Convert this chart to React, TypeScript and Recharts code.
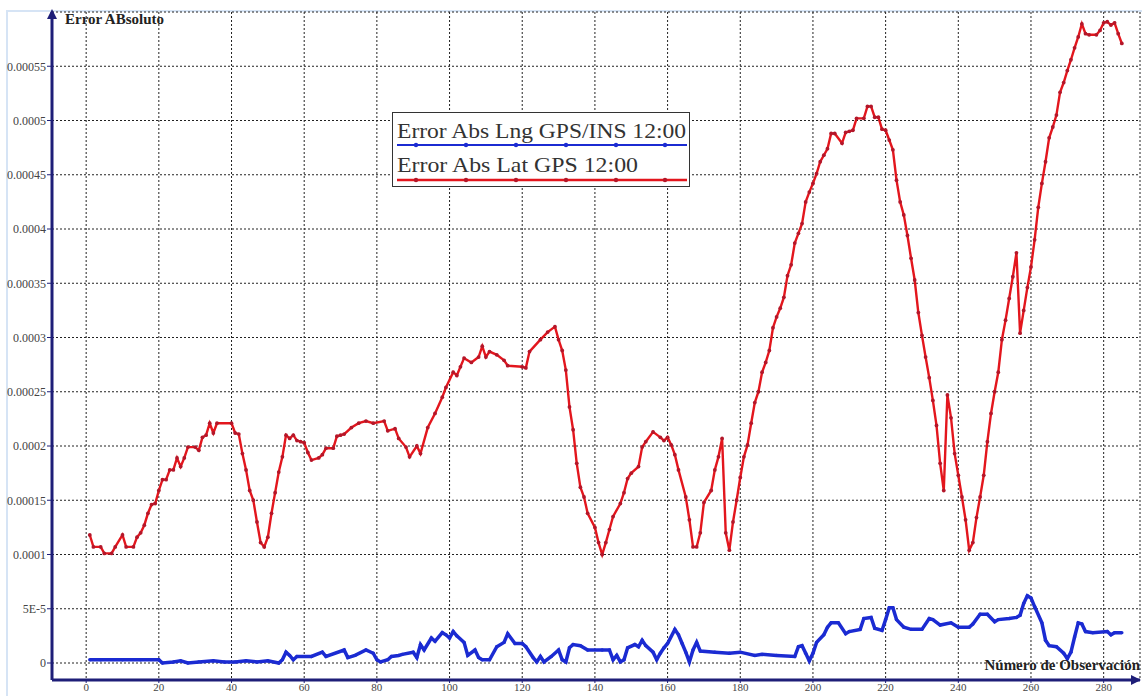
import React from 'react';
import { LineChart, Line, XAxis, YAxis, CartesianGrid, ReferenceDot, Legend } from 'recharts';

const X_TICKS = [0, 20, 40, 60, 80, 100, 120, 140, 160, 180, 200, 220, 240, 260, 280];
const Y_TICKS = [0, 5e-5, 10e-5, 15e-5, 20e-5, 25e-5, 30e-5, 35e-5, 40e-5, 45e-5, 50e-5, 55e-5];
const Y_TICK_LABELS = ['0', '5E-5', '0.0001', '0.00015', '0.0002', '0.00025', '0.0003', '0.00035', '0.0004', '0.00045', '0.0005', '0.00055'];
const X_DOMAIN: [number, number] = [-9.4, 290];
const Y_DOMAIN: [number, number] = [-1.566e-5, 60e-5];
const SERIES_NAMES = ['Error Abs Lng GPS/INS 12:00', 'Error Abs Lat GPS 12:00'];
const Y_TITLE = 'Error ABsoluto';
const X_TITLE = 'Número de Observación';

// [observation, absolute error]
const LNG_POINTS: [number, number][] = [
  [1, 0.3e-5], [4, 0.3e-5], [10, 0.3e-5], [15, 0.3e-5], [20, 0.3e-5], [21, 0.0], [24, 0.1e-5], [26, 0.2e-5],
  [28, 0.0], [31, 0.1e-5], [35, 0.2e-5], [38, 0.1e-5], [41, 0.1e-5], [44, 0.2e-5], [47, 0.1e-5], [50, 0.2e-5],
  [53, 0.0], [54, 0.3e-5], [55, 1.0e-5], [56, 0.7e-5], [57, 0.3e-5], [58, 0.6e-5], [62, 0.6e-5], [65, 1.0e-5],
  [66, 0.6e-5], [71, 1.2e-5], [72, 0.5e-5], [74, 0.7e-5], [77, 1.2e-5], [79, 0.9e-5], [80, 0.3e-5], [81, 0.1e-5],
  [83, 0.3e-5], [84, 0.6e-5], [86, 0.7e-5], [87, 0.8e-5], [90, 1.0e-5], [91, 0.5e-5], [92, 1.7e-5], [93, 1.2e-5],
  [95, 2.3e-5], [96, 2.0e-5], [98, 2.8e-5], [99, 2.6e-5], [100, 2.3e-5], [101, 2.9e-5], [102, 2.5e-5], [104, 1.9e-5],
  [105, 0.7e-5], [107, 1.2e-5], [108, 0.5e-5], [109, 0.3e-5], [111, 0.3e-5], [113, 1.5e-5], [115, 1.9e-5], [116, 2.7e-5],
  [118, 1.8e-5], [120, 1.8e-5], [121, 1.5e-5], [123, 0.5e-5], [124, 0.1e-5], [125, 0.6e-5], [126, 0.1e-5], [128, 0.6e-5],
  [130, 1.2e-5], [131, 0.3e-5], [132, 0.1e-5], [133, 1.4e-5], [134, 1.7e-5], [136, 1.6e-5], [138, 1.2e-5], [142, 1.2e-5],
  [144, 1.2e-5], [145, 0.3e-5], [146, 0.7e-5], [147, 0.1e-5], [148, 0.3e-5], [149, 1.4e-5], [151, 1.7e-5], [152, 1.5e-5],
  [153, 2.1e-5], [154, 1.6e-5], [156, 1.0e-5], [157, 0.3e-5], [158, 0.9e-5], [159, 1.4e-5], [160, 1.8e-5], [162, 3.1e-5],
  [163, 2.6e-5], [164, 1.8e-5], [165, 1.0e-5], [166, 0.1e-5], [167, 1.2e-5], [168, 1.9e-5], [169, 1.1e-5], [173, 1.0e-5],
  [177, 0.9e-5], [180, 1.0e-5], [184, 0.7e-5], [186, 0.8e-5], [190, 0.7e-5], [195, 0.6e-5], [196, 1.5e-5], [197, 1.6e-5],
  [198, 0.9e-5], [199, 0.2e-5], [200, 0.9e-5], [201, 1.9e-5], [203, 2.6e-5], [204, 3.3e-5], [205, 3.7e-5], [207, 3.7e-5],
  [209, 2.7e-5], [210, 2.9e-5], [213, 3.1e-5], [214, 4.1e-5], [216, 4.2e-5], [217, 3.2e-5], [219, 3.0e-5], [220, 4.0e-5],
  [221, 5.1e-5], [222, 5.1e-5], [223, 4.0e-5], [225, 3.3e-5], [227, 3.1e-5], [230, 3.1e-5], [232, 4.1e-5], [233, 4.0e-5],
  [235, 3.5e-5], [238, 3.7e-5], [240, 3.3e-5], [243, 3.3e-5], [244, 3.6e-5], [246, 4.5e-5], [248, 4.5e-5], [250, 3.8e-5],
  [251, 4.0e-5], [254, 4.1e-5], [256, 4.2e-5], [257, 4.4e-5], [258, 5.5e-5], [259, 6.2e-5], [260, 6.0e-5], [261, 5.2e-5],
  [263, 3.7e-5], [264, 2.1e-5], [265, 1.6e-5], [267, 1.5e-5], [269, 0.9e-5], [270, 0.4e-5], [271, 1.0e-5], [272, 2.4e-5],
  [273, 3.7e-5], [274, 3.6e-5], [275, 2.9e-5], [277, 2.8e-5], [281, 2.9e-5], [282, 2.6e-5], [283, 2.8e-5], [285, 2.8e-5],
];

const LAT_POINTS: [number, number][] = [
  [1, 11.8e-5], [2, 10.7e-5], [4, 10.7e-5], [5, 10.1e-5], [7, 10.1e-5], [8, 10.7e-5], [10, 11.8e-5], [11, 10.7e-5],
  [13, 10.7e-5], [14, 11.6e-5], [15, 12.0e-5], [16, 12.7e-5], [17, 13.8e-5], [18, 14.6e-5], [19, 14.7e-5], [20, 15.9e-5],
  [21, 16.9e-5], [22, 16.9e-5], [23, 17.8e-5], [24, 17.8e-5], [25, 18.9e-5], [26, 18.1e-5], [27, 18.9e-5], [28, 19.9e-5],
  [30, 19.9e-5], [31, 19.6e-5], [32, 20.8e-5], [33, 21.0e-5], [34, 22.1e-5], [35, 21.2e-5], [36, 22.1e-5], [40, 22.1e-5],
  [41, 21.2e-5], [42, 21.1e-5], [43, 19.3e-5], [44, 17.8e-5], [45, 15.9e-5], [46, 15.0e-5], [47, 13.0e-5], [48, 11.1e-5],
  [49, 10.7e-5], [50, 11.6e-5], [51, 13.8e-5], [52, 15.7e-5], [53, 17.6e-5], [54, 19.0e-5], [55, 21.0e-5], [56, 20.7e-5],
  [57, 21.0e-5], [58, 20.5e-5], [59, 20.4e-5], [60, 20.3e-5], [61, 19.4e-5], [62, 18.7e-5], [64, 18.9e-5], [65, 19.2e-5],
  [66, 19.8e-5], [68, 19.8e-5], [69, 20.9e-5], [70, 21.0e-5], [71, 21.1e-5], [73, 21.7e-5], [75, 22.1e-5], [77, 22.3e-5],
  [79, 22.1e-5], [82, 22.3e-5], [83, 21.4e-5], [85, 21.6e-5], [86, 20.7e-5], [88, 19.9e-5], [89, 19.0e-5], [91, 20.0e-5],
  [92, 19.3e-5], [94, 21.7e-5], [96, 23.0e-5], [98, 24.5e-5], [99, 25.4e-5], [101, 26.8e-5], [102, 26.5e-5], [103, 27.3e-5],
  [104, 28.1e-5], [106, 27.7e-5], [108, 28.2e-5], [109, 29.2e-5], [110, 28.2e-5], [111, 28.7e-5], [113, 28.4e-5], [115, 27.9e-5],
  [116, 27.4e-5], [120, 27.3e-5], [121, 27.2e-5], [122, 28.7e-5], [125, 29.8e-5], [127, 30.5e-5], [129, 31.0e-5], [130, 29.8e-5],
  [131, 28.8e-5], [132, 27.0e-5], [133, 23.6e-5], [134, 21.5e-5], [135, 18.4e-5], [136, 16.2e-5], [137, 15.3e-5], [138, 13.8e-5],
  [140, 12.5e-5], [141, 11.1e-5], [142, 10.0e-5], [143, 11.1e-5], [144, 12.3e-5], [145, 13.5e-5], [147, 14.7e-5], [148, 15.7e-5],
  [149, 17.0e-5], [150, 17.5e-5], [152, 18.1e-5], [153, 19.9e-5], [154, 20.4e-5], [156, 21.3e-5], [158, 20.8e-5], [159, 20.5e-5],
  [160, 20.8e-5], [161, 20.1e-5], [162, 19.2e-5], [163, 17.8e-5], [165, 15.3e-5], [166, 13.2e-5], [167, 10.7e-5], [168, 10.7e-5],
  [169, 12.0e-5], [170, 14.8e-5], [172, 15.9e-5], [173, 17.8e-5], [174, 19.0e-5], [175, 20.7e-5], [176, 12.0e-5], [177, 10.4e-5],
  [178, 13.0e-5], [179, 15.0e-5], [180, 17.1e-5], [181, 19.0e-5], [182, 20.1e-5], [183, 22.1e-5], [184, 24.0e-5], [185, 25.0e-5],
  [186, 26.8e-5], [187, 27.7e-5], [188, 28.8e-5], [189, 30.9e-5], [190, 31.9e-5], [191, 32.7e-5], [192, 33.7e-5], [193, 35.7e-5],
  [194, 36.7e-5], [195, 38.7e-5], [196, 39.6e-5], [197, 40.5e-5], [198, 42.5e-5], [199, 43.4e-5], [200, 44.2e-5], [201, 45.1e-5],
  [202, 46.2e-5], [203, 46.8e-5], [204, 47.4e-5], [205, 48.8e-5], [206, 48.8e-5], [208, 47.9e-5], [209, 48.9e-5], [210, 49.0e-5],
  [211, 49.1e-5], [212, 50.2e-5], [214, 50.2e-5], [215, 51.3e-5], [216, 51.3e-5], [217, 50.3e-5], [218, 50.3e-5], [219, 49.2e-5],
  [220, 49.1e-5], [221, 48.2e-5], [222, 47.3e-5], [223, 44.5e-5], [224, 42.5e-5], [225, 41.3e-5], [226, 39.4e-5], [227, 37.3e-5],
  [228, 35.3e-5], [229, 32.3e-5], [230, 30.2e-5], [231, 28.2e-5], [232, 26.3e-5], [233, 24.2e-5], [234, 21.9e-5], [235, 18.4e-5],
  [236, 15.9e-5], [237, 24.7e-5], [238, 22.6e-5], [239, 19.3e-5], [240, 17.3e-5], [241, 15.3e-5], [242, 13.2e-5], [243, 10.4e-5],
  [244, 11.1e-5], [245, 13.4e-5], [246, 15.3e-5], [247, 17.3e-5], [248, 20.4e-5], [249, 23.0e-5], [250, 25.0e-5], [251, 26.8e-5],
  [252, 29.8e-5], [253, 31.6e-5], [254, 33.6e-5], [255, 35.6e-5], [256, 37.8e-5], [257, 30.4e-5], [258, 32.5e-5], [259, 34.6e-5],
  [260, 36.5e-5], [261, 39.0e-5], [262, 42.0e-5], [263, 44.2e-5], [264, 46.2e-5], [265, 48.4e-5], [266, 49.4e-5], [267, 50.5e-5],
  [268, 52.6e-5], [269, 53.5e-5], [270, 54.6e-5], [271, 55.6e-5], [272, 56.7e-5], [273, 57.7e-5], [274, 58.9e-5], [275, 58.0e-5],
  [276, 57.9e-5], [278, 57.9e-5], [279, 58.3e-5], [280, 59.0e-5], [281, 59.1e-5], [282, 58.8e-5], [283, 59.0e-5], [284, 58.0e-5],
  [285, 57.1e-5],
];

const lngData = LNG_POINTS.map(([x, y]) => ({ x, y }));
const latData = LAT_POINTS.map(([x, y]) => ({ x, y }));

const NAVY = '#1e1e78';
const BLUE = '#1b2bd2';
const RED = '#e3161d';
const RED_DOT = '#b3172a';
const SERIF = '"Liberation Serif", "Times New Roman", serif';

const UpArrow = (props: any) => {
  const { cx, cy } = props;
  if (cx == null || cy == null) return null;
  return <path d={`M${cx},${cy - 3} L${cx - 5},${cy + 7} L${cx + 5},${cy + 7} Z`} fill={NAVY} />;
};

const RightArrow = (props: any) => {
  const { cx, cy } = props;
  if (cx == null || cy == null) return null;
  return <path d={`M${cx + 1},${cy} L${cx - 9},${cy - 5} L${cx - 9},${cy + 5} Z`} fill={NAVY} />;
};

const LegendBox = () => {
  const dotsX = [23, 73, 123, 173, 223, 272];
  return (
    <svg width={298} height={75} style={{ display: 'block', background: '#fff', border: '1px solid #333', boxSizing: 'border-box' }}>
      <text x={4} y={25} fontFamily={SERIF} fontSize={21} fill="#333" textLength={289} lengthAdjust="spacingAndGlyphs">{SERIES_NAMES[0]}</text>
      <line x1={4} x2={294} y1={32} y2={32} stroke={BLUE} strokeWidth={2} />
      {dotsX.map((dx) => <circle key={'b' + dx} cx={dx} cy={32} r={2.2} fill={BLUE} />)}
      <text x={4} y={59} fontFamily={SERIF} fontSize={21} fill="#333" textLength={241} lengthAdjust="spacingAndGlyphs">{SERIES_NAMES[1]}</text>
      <line x1={4} x2={294} y1={67} y2={67} stroke={RED} strokeWidth={2.5} />
      {dotsX.map((dx) => <circle key={'r' + dx} cx={dx} cy={67} r={2.2} fill={RED_DOT} />)}
    </svg>
  );
};

export default function App() {
  return (
    <div style={{ position: 'absolute', left: 0, top: 0, width: 1142, height: 696, background: '#fff', overflow: 'hidden' }}>
      <div style={{ position: 'absolute', left: 6, top: 10, width: 1200, height: 800, borderLeft: '2px solid #d6e4f5', borderTop: '2px solid #d6e4f5' }} />
      <LineChart width={1142} height={696} margin={{ top: 12, right: 2, bottom: 0, left: 0 }}>
        <CartesianGrid stroke="#222" strokeDasharray="2 2" strokeWidth={1} />
        <XAxis
          type="number"
          dataKey="x"
          domain={X_DOMAIN}
          ticks={X_TICKS}
          allowDataOverflow
          interval={0}
          height={16}
          tickSize={3}
          tickMargin={0}
          axisLine={{ stroke: NAVY, strokeWidth: 3 }}
          tickLine={{ stroke: NAVY }}
          tick={{ fontSize: 11, fill: '#444', fontFamily: SERIF }}
        />
        <YAxis
          type="number"
          domain={Y_DOMAIN}
          ticks={Y_TICKS}
          allowDataOverflow
          interval={0}
          width={52}
          tickSize={5}
          tickMargin={1}
          tickFormatter={(v: number, i: number) => Y_TICK_LABELS[i] ?? String(v)}
          axisLine={{ stroke: NAVY, strokeWidth: 3 }}
          tickLine={{ stroke: NAVY }}
          tick={{ fontSize: 12, fill: '#444', fontFamily: SERIF }}
        />
        <Legend
          layout="horizontal"
          verticalAlign="middle"
          align="center"
          content={() => <LegendBox />}
          wrapperStyle={{ position: 'absolute', left: 392, top: 112, width: 298, height: 75 }}
        />
        <Line
          data={lngData}
          dataKey="y"
          name={SERIES_NAMES[0]}
          type="linear"
          stroke={BLUE}
          strokeWidth={3.5}
          dot={{ r: 1.7, fill: BLUE, stroke: 'none' }}
          isAnimationActive={false}
        />
        <Line
          data={latData}
          dataKey="y"
          name={SERIES_NAMES[1]}
          type="linear"
          stroke={RED}
          strokeWidth={2.4}
          dot={{ r: 1.9, fill: RED_DOT, stroke: 'none' }}
          isAnimationActive={false}
        />
        <ReferenceDot x={X_DOMAIN[0]} y={Y_DOMAIN[1]} ifOverflow="visible" shape={UpArrow} />
        <ReferenceDot x={X_DOMAIN[1]} y={Y_DOMAIN[0]} ifOverflow="visible" shape={RightArrow} />
      </LineChart>
      <div style={{ position: 'absolute', left: 65, top: 12, fontFamily: SERIF, fontWeight: 'bold', fontSize: 15, lineHeight: '15px', color: '#222', whiteSpace: 'nowrap' }}>
        {Y_TITLE}
      </div>
      <div style={{ position: 'absolute', right: 2, top: 658, fontFamily: SERIF, fontWeight: 'bold', fontSize: 15, lineHeight: '15px', color: '#222', whiteSpace: 'nowrap' }}>
        {X_TITLE}
      </div>
    </div>
  );
}
